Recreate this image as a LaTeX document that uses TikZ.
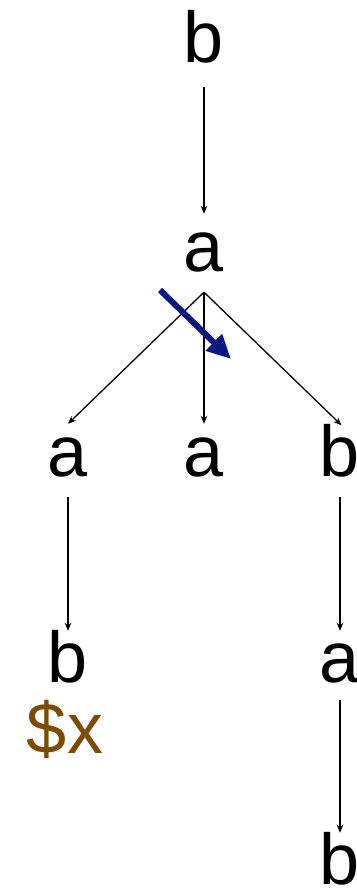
\documentclass[tikz,border=0pt]{standalone}
\usepackage{fontspec}
\setmainfont{Liberation Sans}
\usetikzlibrary{arrows.meta}
\definecolor{brownx}{RGB}{125,74,0}
\definecolor{navyarr}{RGB}{8,24,128}
\begin{document}
\begin{tikzpicture}[x=1pt,y=-1pt,
  lbl/.style={inner sep=0pt,anchor=base,font=\fontsize{72}{72}\selectfont,text height=52pt,text depth=0pt},
  edge/.style={line width=1.3pt,-{Stealth[length=8pt,width=6.5pt]}},
  hint/.style={line width=6pt,navyarr,-{Triangle[length=24pt,width=22pt]}}]
\useasboundingbox (0,0) rectangle (356,888);
\node[lbl] (r) at (204,63) {b};
\node[lbl] (m) at (204,271) {a};
\node[lbl] (l1) at (68,476) {a};
\node[lbl] (c1) at (204,476) {a};
\node[lbl] (r1) at (340,476) {b};
\node[lbl] (l2) at (68,682) {b};
\node[lbl] (r2) at (340,682) {a};
\node[lbl] (r3) at (340,884) {b};
\node[inner sep=0pt,anchor=base,font=\fontsize{72}{72}\selectfont,text=brownx] (x) at (65,753) {\$x};
\draw[edge,shorten >=5pt] ([yshift=-24pt]r.south) -- (m.north);
\draw[edge] ([yshift=-21pt]m.south) -- (l1.north);
\draw[edge] ([yshift=-21pt]m.south) -- (c1.north);
\draw[edge,shorten >=-2pt] ([yshift=-21pt]m.south) -- (r1.north);
\draw[edge,shorten >=-1pt] ([yshift=-21pt]l1.south) -- (l2.north);
\draw[edge,shorten >=-1pt] ([yshift=-21pt]r1.south) -- (r2.north);
\draw[edge,shorten >=-1pt] ([yshift=-18pt]r2.south) -- (r3.north);
\coordinate (hs) at (160,290);
\coordinate (he) at (231,359);
\draw[hint] (hs) -- (he);
\end{tikzpicture}
\end{document}
